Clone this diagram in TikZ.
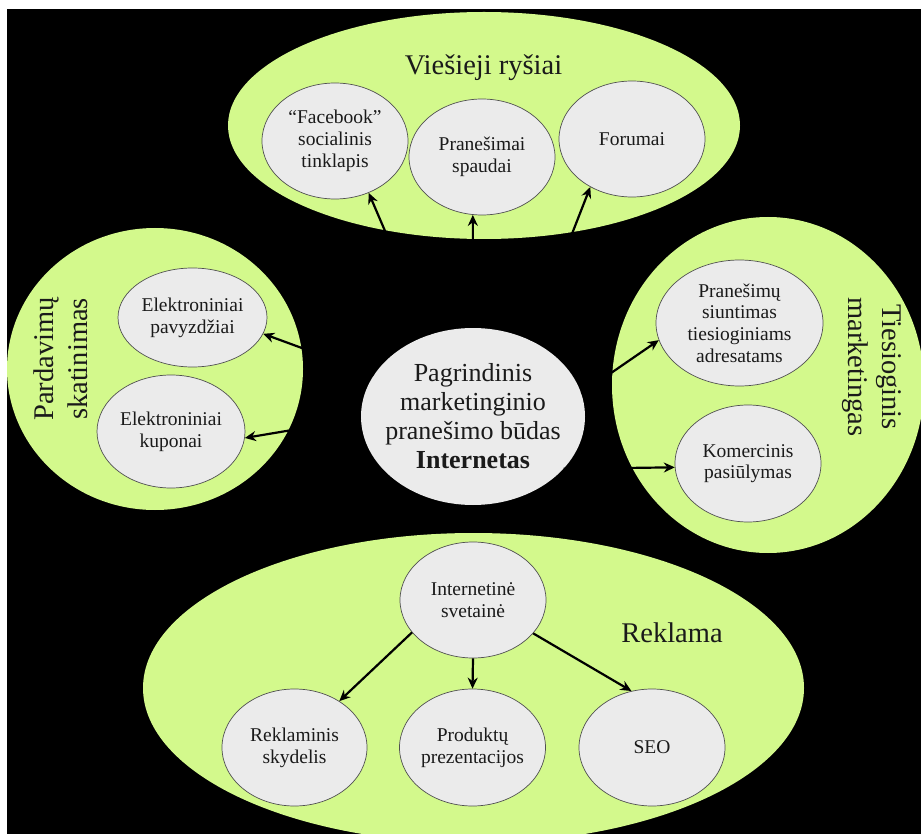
\documentclass[tikz,border=0pt]{standalone}
\usepackage{fontspec}
\setmainfont{Liberation Serif}
\usetikzlibrary{shapes.geometric, arrows.meta}

\definecolor{groupgreen}{HTML}{D3F98C}
\definecolor{itemgray}{HTML}{EBEBEB}
\definecolor{rimgray}{HTML}{505050}
\definecolor{inkdark}{HTML}{1A1A1A}

\begin{document}
\begin{tikzpicture}[x=1pt, y=-1pt,
  group/.style={ellipse, fill=groupgreen, inner sep=0pt},
  item/.style={ellipse, fill=itemgray, draw=rimgray, line width=0.7pt,
    inner sep=0pt, align=center, text=inkdark,
    font=\fontsize{19.5}{21.7}\selectfont},
  grouptitle/.style={text=inkdark, font=\fontsize{28.5}{34}\selectfont,
    align=center, inner sep=0pt},
  link/.style={line width=2.2pt, -{Stealth[length=11pt, width=10pt]}},
]
\useasboundingbox (0,0) rectangle (921,834);
\fill[white] (0,0) rectangle (921,834);
\fill[black] (7,9) rectangle (921,834);

% the four channel groups
\begin{scope}
  \clip (7,9) rectangle (921,834);
  \node[group, minimum width=512pt, minimum height=227pt] (prgroup) at (484,125.5) {};
  \node[group, minimum width=296pt, minimum height=282pt] (salesgroup) at (155,369) {};
  \node[group, minimum width=312pt, minimum height=336pt] (directgroup) at (768,385) {};
  \node[group, minimum width=661pt, minimum height=310pt] (adgroup) at (473.5,688) {};
\end{scope}

% group titles
\node[grouptitle, anchor=base] (prtitle) at (483.5,75) {Viešieji ryšiai};
\node[grouptitle, anchor=base] (adtitle) at (672,642) {Reklama};
\node[grouptitle, rotate=90] (salestitle) at (61,359) {Pardavimų\\skatinimas};
\node[grouptitle, rotate=-90] (directtitle) at (872,367) {Tiesioginis\\marketingas};

% central node
\node[ellipse, fill=itemgray, inner xsep=-25pt, inner ysep=0pt,
  minimum width=224pt, minimum height=177pt, align=center, text=inkdark,
  font=\fontsize{26}{29}\selectfont] (hub) at (473,416.5)
  {Pagrindinis\\marketinginio\\pranešimo būdas\\\textbf{Internetas}};

% public relations
\node[item, minimum width=146pt, minimum height=116pt] (fb) at (335,141) {“Facebook”\\socialinis\\tinklapis};
\node[item, minimum width=146pt, minimum height=116pt] (press) at (482,157) {Pranešimai\\spaudai};
\node[item, minimum width=146pt, minimum height=116pt] (forum) at (632,139) {Forumai};

% sales promotion
\node[item, minimum width=149pt, minimum height=99pt] (samples) at (192.5,317.5) {Elektroniniai\\pavyzdžiai};
\node[item, minimum width=148pt, minimum height=113pt] (coupons) at (171,431.5) {Elektroniniai\\kuponai};

% direct marketing
\node[item, minimum width=167pt, minimum height=126pt] (mail) at (739.5,323) {Pranešimų\\siuntimas\\tiesioginiams\\adresatams};
\node[item, minimum width=146pt, minimum height=117pt] (offer) at (748,463.5) {Komercinis\\pasiūlymas};

% advertising
\node[item, minimum width=146pt, minimum height=116pt] (site) at (473,600) {Internetinė\\svetainė};
\node[item, minimum width=145pt, minimum height=117pt] (banner) at (294.5,747.5) {Reklaminis\\skydelis};
\node[item, minimum width=146pt, minimum height=117pt] (prod) at (472.5,747.5) {Produktų\\prezentacijos};
\node[item, minimum width=146pt, minimum height=117pt] (seo) at (652,747.5) {SEO};

% connectors
\draw[link] (hub.118.1) -- (fb.303.5);
\draw[link] (hub.90) -- (press.261);
\draw[link] (hub.53.6) -- (forum.229);
\draw[link] (hub.157.1) -- (samples.347.4);
\draw[link] (hub.181.1) -- (coupons.355.75);
\draw[link] (hub.12.7) -- (mail.192.4);
\draw[link] (hub.330.5) -- (offer.183.4);
\draw[link] (site.208) -- (banner.46.3);
\draw[link] (site.south) -- (prod.north);
\draw[link] (site.331) -- (seo.110);
\end{tikzpicture}
\end{document}
